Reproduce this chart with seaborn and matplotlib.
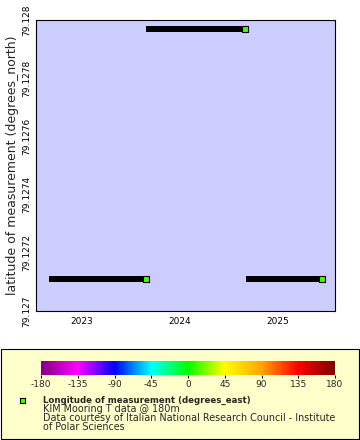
import numpy as np
import pandas as pd
import matplotlib
matplotlib.use("Agg")
import matplotlib.pyplot as plt
import matplotlib.dates as mdates
from matplotlib.colors import LinearSegmentedColormap, Normalize
from matplotlib.patches import Rectangle
import seaborn as sns

# ---- data ----
deployment = ["KIM 2022", "KIM 2023", "KIM 2024"]
start_time = ["2022-08-31", "2023-08-29", "2024-09-05"]
end_time = ["2023-08-30", "2024-09-04", "2025-06-19"]
latitude = [79.12711, 79.12797, 79.12711]
longitude = [11.9, 11.9, 11.9]

cbar_ticks = [-180, -135, -90, -45, 0, 45, 90, 135, 180]
cbar_labels = ["-180", "-135", "-90", "-45", "0", "45", "90", "135", "180"]
ytick_vals = [79.127, 79.1272, 79.1274, 79.1276, 79.1278, 79.128]
ytick_labels = ["79.127", "79.1272", "79.1274", "79.1276", "79.1278", "79.128"]
palette_colors = ["#800080", "#ff00ff", "#0000ff", "#00ffff", "#00ff00",
                  "#ffff00", "#ffa500", "#ff0000", "#800000"]

sns.set_theme(style="white")
plt.rcParams["font.family"] = ["DejaVu Sans"]

cmap = LinearSegmentedColormap.from_list("rainbow2", palette_colors)
norm = Normalize(-180, 180)

rows = []
for d, s, e, la in zip(deployment, start_time, end_time, latitude):
    rows.append({"deployment": d, "time": pd.Timestamp(s), "lat": la})
    rows.append({"deployment": d, "time": pd.Timestamp(e), "lat": la})
df = pd.DataFrame(rows)
ends = pd.DataFrame({"time": pd.to_datetime(end_time), "lat": latitude, "lon": longitude})

W, H = 360, 440
fig = plt.figure(figsize=(W / 100, H / 100), dpi=100)
ax = fig.add_axes([36 / W, (H - 311) / H, 299 / W, 291 / H])
ax.set_facecolor("#ccccff")

line_lw = 6 * 72 / 100
sns.lineplot(data=df, x="time", y="lat", units="deployment", estimator=None,
             color="black", linewidth=line_lw, ax=ax, legend=False,
             solid_capstyle="butt")
sns.scatterplot(data=ends, x="time", y="lat", color=cmap(norm(longitude[0])),
                marker="s", s=17, edgecolor="black", linewidth=0.8, ax=ax, legend=False,
                zorder=5)

ax.set_xlim(pd.Timestamp("2022-07-13"), pd.Timestamp("2025-08-05"))
ax.set_ylim(79.127, 79.128)
ax.xaxis.set_major_locator(mdates.YearLocator())
ax.xaxis.set_major_formatter(mdates.DateFormatter("%Y"))
ax.set_yticks(ytick_vals)
ax.set_yticklabels(ytick_labels, rotation=90, va="center")
ax.set_yticks([79.1271, 79.1273, 79.1275, 79.1277, 79.1279], minor=True)
ax.tick_params(axis="both", which="both", direction="out", length=2.6, width=0.7,
               color="black", labelsize=6.5, labelcolor="black", pad=1)
ax.tick_params(axis="x", pad=2)
ax.set_xlabel("")
ax.set_ylabel("latitude of measurement (degrees_north)", fontsize=9, labelpad=2)
for sp in ax.spines.values():
    sp.set_visible(True)
    sp.set_color("black")
    sp.set_linewidth(0.8)

# ---- legend box ----
fig.patches.append(Rectangle((1 / W, (H - 439) / H), 358 / W, 90 / H,
                             transform=fig.transFigure, facecolor="#ffffcc",
                             edgecolor="black", linewidth=0.8, zorder=-1))

cax = fig.add_axes([41 / W, (H - 375) / H, 294 / W, 14 / H])
sm = matplotlib.cm.ScalarMappable(norm=norm, cmap=cmap)
cb = fig.colorbar(sm, cax=cax, orientation="horizontal")
cb.outline.set_visible(False)
cb.set_ticks(cbar_ticks)
cb.set_ticklabels(cbar_labels)
cax.tick_params(axis="x", length=2.5, width=0.7, color="black", labelsize=6.5, pad=1)

mx = fig.add_axes([20 / W, (H - 403) / H, 5 / W, 5 / H])
mx.set_facecolor(cmap(norm(longitude[0])))
mx.set_xticks([]); mx.set_yticks([])
for sp in mx.spines.values():
    sp.set_color("black"); sp.set_linewidth(0.8)

fig.text(43 / W, 1 - 400 / H, "Longitude of measurement (degrees_east)",
         fontsize=6.2, fontweight="bold", va="center", ha="left")
fig.text(43 / W, 1 - 409 / H, "KIM Mooring T data @ 180m", fontsize=6.9, va="center", ha="left")
fig.text(43 / W, 1 - 418 / H, "Data courtesy of Italian National Research Council - Institute",
         fontsize=6.9, va="center", ha="left")
fig.text(43 / W, 1 - 427 / H, "of Polar Sciences", fontsize=6.9, va="center", ha="left")

fig.savefig("out.png", dpi=100)
